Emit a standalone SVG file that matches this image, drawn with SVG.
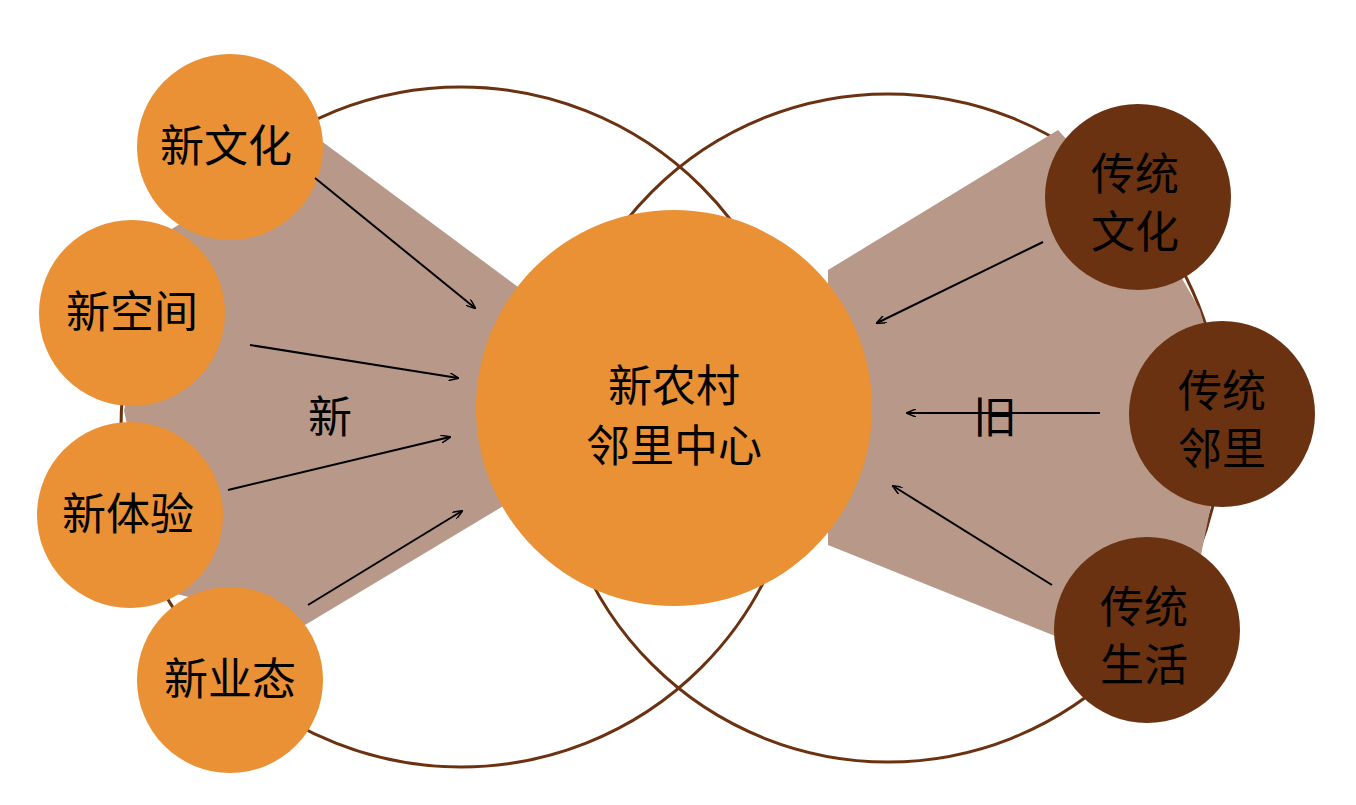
<svg xmlns="http://www.w3.org/2000/svg" width="1356" height="805" viewBox="0 0 1356 805">
<style>
.big{fill:none;stroke:#6B3212;stroke-width:3}
.or{fill:#EA9035}
.dk{fill:#6B3212}
.shade{fill:#B89989}
text{font-family:"Noto Sans CJK SC",sans-serif;font-size:44px;fill:#000;text-anchor:middle}
.con line{stroke:#000;stroke-width:2}
</style>
<defs><marker id="a" markerWidth="10" markerHeight="8" refX="9" refY="4" orient="auto" markerUnits="userSpaceOnUse"><path d="M0,0 L10,4 L0,8" fill="none" stroke="#000" stroke-width="1.5"/></marker></defs>
<rect width="1356" height="805" fill="#fff"/>
<circle class="big" cx="461" cy="427" r="340"/>
<circle class="big" cx="888" cy="428" r="334"/>
<polygon class="shade" points="320,140 518,287 505,505 305,625 160,590 124,410 170,230"/>
<polygon class="shade" points="1058,130 828,270 828,545 1060,638 1160,610 1200,560 1218,470 1220,380 1200,310 1160,240"/>
<g id="center"><circle class="or" cx="674" cy="408" r="198"/><text x="674" y="402">新农村</text><text x="674" y="462">邻里中心</text></g>
<g id="n1"><circle class="or" cx="230" cy="147" r="93"/><text x="226" y="162">新文化</text></g>
<g id="n2"><circle class="or" cx="132" cy="313" r="93"/><text x="132" y="328">新空间</text></g>
<g id="n3"><circle class="or" cx="130" cy="515" r="93"/><text x="128" y="530">新体验</text></g>
<g id="n4"><circle class="or" cx="230" cy="680" r="93"/><text x="230" y="695">新业态</text></g>
<g id="r1"><circle class="dk" cx="1138" cy="197" r="93"/><text x="1135" y="190">传统</text><text x="1135" y="248">文化</text></g>
<g id="r2"><circle class="dk" cx="1222" cy="414" r="93"/><text x="1222" y="407">传统</text><text x="1222" y="465">邻里</text></g>
<g id="r3"><circle class="dk" cx="1147" cy="630" r="93"/><text x="1144" y="623">传统</text><text x="1144" y="681">生活</text></g>
<text x="330" y="433">新</text>
<text x="995" y="433">旧</text>
<g class="con">
<line x1="315" y1="178" x2="475" y2="308" marker-end="url(#a)"/>
<line x1="250" y1="345" x2="458" y2="378" marker-end="url(#a)"/>
<line x1="228" y1="490" x2="450" y2="437" marker-end="url(#a)"/>
<line x1="308" y1="605" x2="462" y2="511" marker-end="url(#a)"/>
<line x1="1043" y1="242" x2="877" y2="323" marker-end="url(#a)"/>
<line x1="1100" y1="413" x2="907" y2="413" marker-end="url(#a)"/>
<line x1="1052" y1="585" x2="893" y2="486" marker-end="url(#a)"/>
</g>
</svg>
